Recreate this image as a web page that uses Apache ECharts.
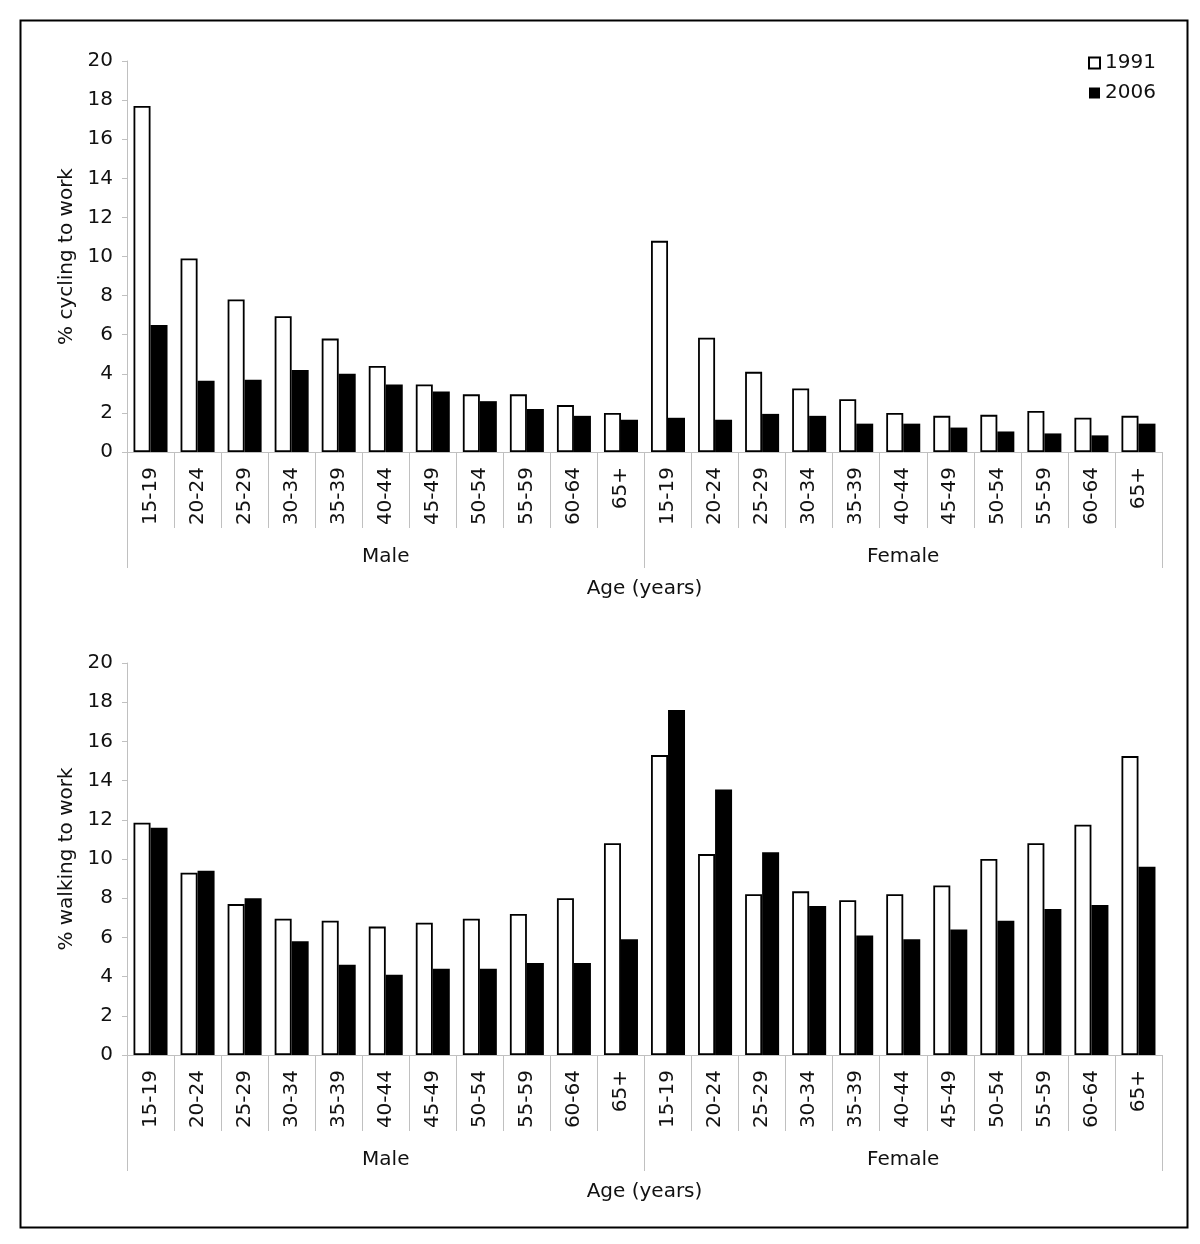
<!DOCTYPE html>
<html>
<head>
<meta charset="utf-8">
<script src="https://cdn.jsdelivr.net/npm/echarts@6/dist/echarts.min.js"></script>
<style>
html,body{margin:0;padding:0;background:#fff;}
#chart{width:1200px;height:1244px;}
</style>
</head>
<body>
<div id="chart"></div>
<script>
var ageGroups = ['15-19','20-24','25-29','30-34','35-39','40-44','45-49','50-54','55-59','60-64','65+'];
var sexGroups = ['Male','Female'];
var categories = ageGroups.concat(ageGroups);
var yTicks = [0,2,4,6,8,10,12,14,16,18,20];

// % cycling to work (Male 11 values, then Female 11 values)
var cycling1991 = [17.7, 9.9, 7.8, 6.95, 5.8, 4.4, 3.45, 2.95, 2.95, 2.4, 2.0,
                   10.8, 5.85, 4.1, 3.25, 2.7, 2.0, 1.85, 1.9, 2.1, 1.75, 1.85];
var cycling2006 = [6.5, 3.65, 3.7, 4.2, 4.0, 3.45, 3.1, 2.6, 2.2, 1.85, 1.65,
                   1.75, 1.65, 1.95, 1.85, 1.45, 1.45, 1.25, 1.05, 0.95, 0.85, 1.45];
// % walking to work
var walking1991 = [11.85, 9.3, 7.7, 6.95, 6.85, 6.55, 6.75, 6.95, 7.2, 8.0, 10.8,
                   15.3, 10.25, 8.2, 8.35, 7.9, 8.2, 8.65, 10.0, 10.8, 11.75, 15.25];
var walking2006 = [11.6, 9.4, 8.0, 5.8, 4.6, 4.1, 4.4, 4.4, 4.7, 4.7, 5.9,
                   17.6, 13.55, 10.35, 7.6, 6.1, 5.9, 6.4, 6.85, 7.45, 7.65, 9.6];

var FONT = 'Verdana, "DejaVu Sans", sans-serif';
var GREY = '#c0c0c0';
var TXT = '#111';

function ageAxis(gridIndex) {
  return {
    type: 'category', gridIndex: gridIndex, position: 'bottom', data: categories,
    axisLine: {show: true, lineStyle: {color: GREY, width: 1}},
    axisTick: {show: true, length: 76, lineStyle: {color: GREY, width: 1}},
    axisLabel: {interval: 0, rotate: 90, margin: 15, fontSize: 20, fontFamily: FONT, color: TXT}
  };
}
function sexAxis(gridIndex) {
  return {
    type: 'category', gridIndex: gridIndex, position: 'bottom', data: sexGroups,
    axisLine: {show: false},
    axisTick: {show: true, length: 116, lineStyle: {color: GREY, width: 1}},
    axisLabel: {interval: 0, margin: 95, fontSize: 20, fontFamily: FONT, color: TXT},
    name: 'Age (years)', nameLocation: 'middle', nameGap: 127,
    nameTextStyle: {fontSize: 20, fontFamily: FONT, color: TXT}
  };
}
function valAxis(gridIndex, name) {
  return {
    type: 'value', gridIndex: gridIndex, min: yTicks[0], max: yTicks[yTicks.length - 1], interval: 2,
    axisLine: {show: true, lineStyle: {color: GREY, width: 1}},
    axisTick: {show: true, length: 5, lineStyle: {color: GREY, width: 1}},
    splitLine: {show: false},
    axisLabel: {margin: 14, fontSize: 20, fontFamily: FONT, color: TXT},
    name: name, nameLocation: 'middle', nameRotate: 90, nameGap: 50,
    nameTextStyle: {fontSize: 20, fontFamily: FONT, color: TXT}
  };
}
function bar(name, data, xi, yi, filled) {
  return {
    name: name, type: 'bar', xAxisIndex: xi, yAxisIndex: yi, data: data,
    barWidth: 17, barGap: '0%',
    itemStyle: filled ? {color: '#000', borderColor: '#000', borderWidth: 0}
                      : {color: '#fff', borderColor: '#000', borderWidth: 1.8},
    emphasis: {disabled: true}
  };
}

var chart = echarts.init(document.getElementById('chart'), null, {renderer: 'canvas'});
chart.setOption({
  animation: false,
  backgroundColor: '#fff',
  textStyle: {fontFamily: FONT},
  grid: [
    {left: 127, right: 38, top: 61, height: 391},
    {left: 127, right: 38, top: 663, height: 392}
  ],
  legend: {
    data: [{name: '1991', icon: 'rect'}, {name: '2006', icon: 'rect'}],
    orient: 'vertical', left: 1083, top: 48,
    itemWidth: 11, itemHeight: 11, itemGap: 10,
    textStyle: {fontSize: 20, fontFamily: FONT, color: TXT},
    selectedMode: false
  },
  xAxis: [ageAxis(0), sexAxis(0), ageAxis(1), sexAxis(1)],
  yAxis: [valAxis(0, '% cycling to work'), valAxis(1, '% walking to work')],
  series: [
    bar('1991', cycling1991, 0, 0, false),
    bar('2006', cycling2006, 0, 0, true),
    bar('1991', walking1991, 2, 1, false),
    bar('2006', walking2006, 2, 1, true)
  ],
  graphic: [{
    type: 'rect', left: 18, top: 18,
    shape: {width: 1167, height: 1207},
    style: {fill: null, stroke: '#000', lineWidth: 2}
  }]
});
</script>
</body>
</html>
